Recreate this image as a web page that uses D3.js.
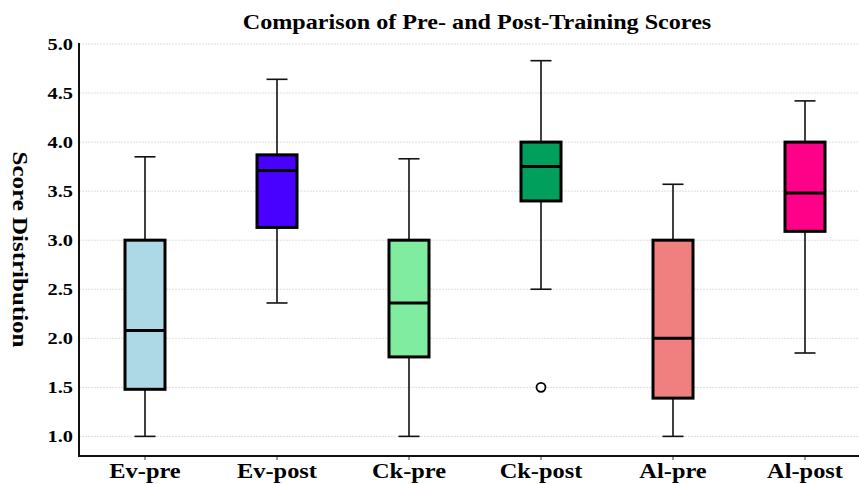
<!DOCTYPE html>
<html>
<head>
<meta charset="utf-8">
<script src="https://cdn.jsdelivr.net/npm/d3@7"></script>
<style>
  body { margin: 0; background: #fff; }
  svg text { font-family: "Liberation Serif", "Times New Roman", serif; font-weight: bold; fill: #000; }
</style>
</head>
<body>
<div id="chart"></div>
<script>
// Box plot: pre vs post training scores
const groups = ['Ev-pre', 'Ev-post', 'Ck-pre', 'Ck-post', 'Al-pre', 'Al-post'];
const whiskerLow = [1.0, 2.36, 1.0, 2.5, 1.0, 1.85];
const q1 = [1.48, 3.13, 1.81, 3.4, 1.39, 3.09];
const median = [2.08, 3.71, 2.36, 3.75, 2.0, 3.48];
const q3 = [3.0, 3.87, 3.0, 4.0, 3.0, 4.0];
const whiskerHigh = [3.85, 4.64, 3.83, 4.83, 3.57, 4.42];
const outliers = [{ group: 'Ck-post', value: 1.5 }];
const colors = ['#add8e6', '#4800ff', '#80eca0', '#00a05c', '#f08080', '#ff0088'];
const yTicks = [1.0, 1.5, 2.0, 2.5, 3.0, 3.5, 4.0, 4.5, 5.0];

const W = 859, H = 484;
const margin = { top: 43, right: -12, bottom: 28, left: 79 };

const boxes = groups.map((g, i) => ({
    group: g, low: whiskerLow[i], q1: q1[i], med: median[i], q3: q3[i], high: whiskerHigh[i], color: colors[i]
}));

const svg = d3.select('#chart').append('svg')
    .attr('width', W)
    .attr('height', H);

const x = d3.scaleBand()
    .domain(groups)
    .range([margin.left, W - margin.right])
    .padding(0);

const y = d3.scaleLinear()
    .domain([0.8, 5.0])
    .range([H - margin.bottom, margin.top + 1]);

// grid
svg.append('g')
    .selectAll('line')
    .data(yTicks)
    .join('line')
    .attr('x1', margin.left)
    .attr('x2', W)
    .attr('y1', d => y(d))
    .attr('y2', d => y(d))
    .attr('stroke', '#dedede')
    .attr('stroke-width', 1)
    .attr('stroke-dasharray', '2,1');

// axes (text is a bit wide in the original, so stretch it horizontally)
const yAxis = svg.append('g')
    .attr('transform', `translate(${margin.left},0)`)
    .call(d3.axisLeft(y).tickValues(yTicks).tickFormat(d3.format('.1f')).tickSize(0).tickPadding(0));
yAxis.select('.domain').remove();
yAxis.selectAll('text')
    .style('font-size', '17px')
    .attr('x', -5)
    .attr('transform', 'scale(1.2,1)');

const xAxis = svg.append('g')
    .attr('transform', `translate(0,${H - margin.bottom})`)
    .call(d3.axisBottom(x).tickSize(4).tickPadding(3));
xAxis.select('.domain').remove();
xAxis.selectAll('line').attr('stroke', '#333');
xAxis.selectAll('text')
    .style('font-size', '20px')
    .attr('dy', '0.75em')
    .attr('transform', 'scale(1.22,1)');

svg.append('line')
    .attr('x1', margin.left).attr('x2', margin.left)
    .attr('y1', margin.top).attr('y2', H - margin.bottom)
    .attr('stroke', '#111').attr('stroke-width', 2);
svg.append('line')
    .attr('x1', margin.left - 1).attr('x2', W)
    .attr('y1', H - margin.bottom).attr('y2', H - margin.bottom)
    .attr('stroke', '#111').attr('stroke-width', 2);

// boxes
const boxW = 40, capW = 21;
const g = svg.append('g')
    .selectAll('g')
    .data(boxes)
    .join('g')
    .attr('transform', d => `translate(${x(d.group) + x.bandwidth() / 2},0)`);

g.append('line')
    .attr('x1', 0).attr('x2', 0)
    .attr('y1', d => y(d.low)).attr('y2', d => y(d.high))
    .attr('stroke', '#111').attr('stroke-width', 1.6);

g.selectAll('line.cap')
    .data(d => [d.low, d.high])
    .join('line')
    .attr('class', 'cap')
    .attr('x1', -capW / 2).attr('x2', capW / 2)
    .attr('y1', v => y(v)).attr('y2', v => y(v))
    .attr('stroke', '#111').attr('stroke-width', 1.6);

g.append('rect')
    .attr('x', -boxW / 2)
    .attr('width', boxW)
    .attr('y', d => y(d.q3))
    .attr('height', d => y(d.q1) - y(d.q3))
    .attr('fill', d => d.color)
    .attr('stroke', '#000')
    .attr('stroke-width', 3);

g.append('line')
    .attr('x1', -boxW / 2).attr('x2', boxW / 2)
    .attr('y1', d => y(d.med)).attr('y2', d => y(d.med))
    .attr('stroke', '#000').attr('stroke-width', 3);

// outliers
svg.append('g')
    .selectAll('circle')
    .data(outliers)
    .join('circle')
    .attr('cx', d => x(d.group) + x.bandwidth() / 2)
    .attr('cy', d => y(d.value))
    .attr('r', 4.5)
    .attr('fill', '#fff')
    .attr('stroke', '#000')
    .attr('stroke-width', 1.8);

// title + axis label
svg.append('text')
    .attr('transform', 'translate(477,29) scale(1.15,1)')
    .attr('text-anchor', 'middle')
    .style('font-size', '21px')
    .text('Comparison of Pre- and Post-Training Scores');

svg.append('text')
    .attr('transform', `translate(20,${(margin.top + H - margin.bottom) / 2}) rotate(90) scale(1.25,1)`)
    .attr('text-anchor', 'middle')
    .attr('dy', '0.35em')
    .style('font-size', '20px')
    .text('Score Distribution');
</script>
</body>
</html>
